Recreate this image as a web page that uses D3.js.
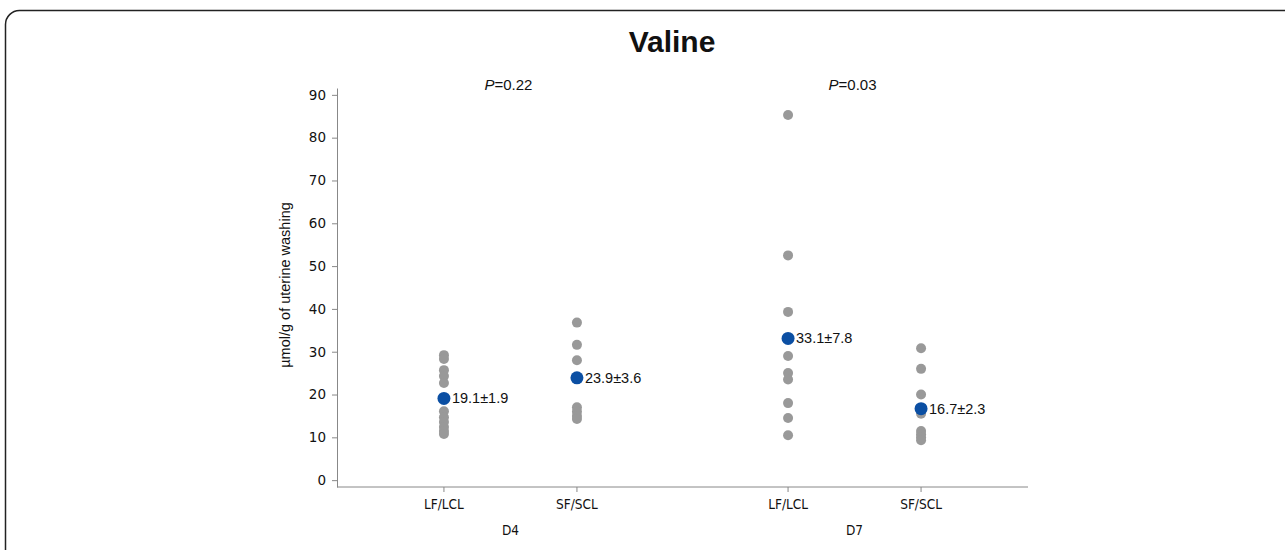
<!DOCTYPE html>
<html>
<head>
<meta charset="utf-8">
<script src="https://cdn.jsdelivr.net/npm/d3@7"></script>
<style>
  body { margin: 0; background: #fff; }
  svg { display: block; }
</style>
</head>
<body>
<div id="chart"></div>
<script>
const groups = ['D4', 'D7'];
const categories = ['LF/LCL', 'SF/SCL'];
const pValues = ['0.22', '0.03'];
const yTicks = [0, 10, 20, 30, 40, 50, 60, 70, 80, 90];

// individual animals
const d4Lf = [29.2, 28.3, 25.7, 24.3, 22.7, 16.1, 14.7, 13.6, 12.4, 11.5, 10.8];
const d4Sf = [36.8, 31.6, 28.0, 17.0, 16.0, 15.0, 14.3];
const d7Lf = [85.3, 52.5, 39.3, 29.0, 25.0, 23.5, 18.0, 14.5, 10.5];
const d7Sf = [30.8, 26.0, 20.0, 15.5, 11.5, 10.7, 10.0, 9.3];

const means = [19.1, 23.9, 33.1, 16.7];
const sems = [1.9, 3.6, 7.8, 2.3];

const series = [
    { group: 'D4', cat: 'LF/LCL', values: d4Lf, mean: means[0], sem: sems[0] },
    { group: 'D4', cat: 'SF/SCL', values: d4Sf, mean: means[1], sem: sems[1] },
    { group: 'D7', cat: 'LF/LCL', values: d7Lf, mean: means[2], sem: sems[2] },
    { group: 'D7', cat: 'SF/SCL', values: d7Sf, mean: means[3], sem: sems[3] }
];

const width = 1285, height = 550;
const plotLeft = 337, plotRight = 1028, plotTop = 88, plotBottom = 487;

const svg = d3.select('#chart')
    .append('svg')
    .attr('width', width)
    .attr('height', height);

// outer frame of the figure panel
svg.append('rect')
    .attr('x', 5.5)
    .attr('y', 10.5)
    .attr('width', 1320)
    .attr('height', 620)
    .attr('rx', 14)
    .attr('fill', 'none')
    .attr('stroke', '#222')
    .attr('stroke-width', 1.5);

const x = d3.scalePoint()
    .domain(groups)
    .range([plotLeft, plotRight])
    .padding(0.504);

const xInner = d3.scalePoint()
    .domain(categories)
    .range([-66.5, 66.5]);

const y = d3.scaleLinear()
    .domain([-1.6, 91.6])
    .range([plotBottom, plotTop]);

const px = d => x(d.group) + xInner(d.cat);

// title
svg.append('text')
    .attr('x', 672)
    .attr('y', 52)
    .attr('text-anchor', 'middle')
    .style('font-family', 'Liberation Sans, Arial, sans-serif')
    .style('font-size', '30px')
    .style('font-weight', 'bold')
    .style('fill', '#111')
    .text('Valine');

// P values
groups.forEach((g, i) => {
    const t = svg.append('text')
        .attr('x', x(g) - 2)
        .attr('y', 90)
        .attr('text-anchor', 'middle')
        .style('font-family', 'Liberation Sans, Arial, sans-serif')
        .style('font-size', '15px')
        .style('fill', '#111');
    t.append('tspan').style('font-style', 'italic').text('P');
    t.append('tspan').text('=' + pValues[i]);
});

// y axis
const yAxis = svg.append('g')
    .attr('transform', `translate(${plotLeft}, 0)`)
    .call(d3.axisLeft(y)
        .tickValues(yTicks)
        .tickSize(5)
        .tickPadding(6)
        .tickSizeOuter(0));

yAxis.select('.domain').attr('stroke', '#888');
yAxis.selectAll('.tick line').attr('stroke', '#888');
yAxis.selectAll('.tick text')
    .style('font-family', 'DejaVu Sans, Verdana, sans-serif')
    .style('font-size', '13.5px')
    .style('fill', '#111');

// x axis
const xAxis = svg.append('g')
    .attr('transform', `translate(0, ${plotBottom})`);

xAxis.append('line')
    .attr('x1', plotLeft)
    .attr('x2', plotRight)
    .attr('stroke', '#888');

xAxis.selectAll('.xtick')
    .data(series)
    .enter()
    .append('line')
    .attr('x1', d => px(d))
    .attr('x2', d => px(d))
    .attr('y1', 0)
    .attr('y2', 5)
    .attr('stroke', '#888');

xAxis.selectAll('.xlabel')
    .data(series)
    .enter()
    .append('text')
    .attr('x', d => px(d))
    .attr('y', 22)
    .attr('text-anchor', 'middle')
    .style('font-family', 'DejaVu Sans, Tahoma, sans-serif')
    .style('font-stretch', 'condensed')
    .style('font-size', '13.5px')
    .style('fill', '#111')
    .text(d => d.cat);

xAxis.selectAll('.glabel')
    .data(groups)
    .enter()
    .append('text')
    .attr('x', d => x(d))
    .attr('y', 48)
    .attr('text-anchor', 'middle')
    .style('font-family', 'DejaVu Sans, Tahoma, sans-serif')
    .style('font-stretch', 'condensed')
    .style('font-size', '13.5px')
    .style('fill', '#111')
    .text(d => d);

// y axis title
svg.append('text')
    .attr('transform', `translate(290, 285) rotate(-90)`)
    .attr('text-anchor', 'middle')
    .style('font-family', 'Liberation Sans, Arial, sans-serif')
    .style('font-size', '14.5px')
    .style('fill', '#111')
    .text('µmol/g of uterine washing');

// individual points
series.forEach(s => {
    svg.selectAll(null)
        .data(s.values)
        .enter()
        .append('circle')
        .attr('cx', px(s))
        .attr('cy', v => y(v))
        .attr('r', 5)
        .attr('fill', '#999');
});

// means
svg.selectAll('.mean')
    .data(series)
    .enter()
    .append('circle')
    .attr('cx', d => px(d))
    .attr('cy', d => y(d.mean))
    .attr('r', 6.5)
    .attr('fill', '#0b4fa3');

svg.selectAll('.mean-label')
    .data(series)
    .enter()
    .append('text')
    .attr('x', d => px(d) + 8)
    .attr('y', d => y(d.mean) + 5)
    .style('font-family', 'Liberation Sans, Arial, sans-serif')
    .style('font-size', '14.5px')
    .style('fill', '#111')
    .text(d => `${d.mean}±${d.sem}`);
</script>
</body>
</html>
